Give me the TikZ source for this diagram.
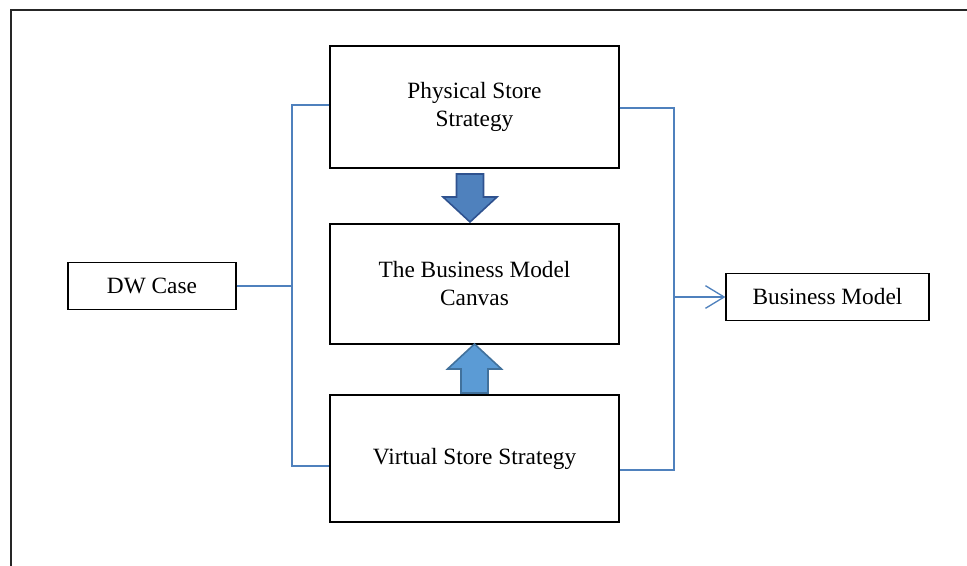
\documentclass[tikz,border=0pt]{standalone}
\usepackage{fontspec}
\setmainfont{Liberation Serif}
\usepackage{tikz}
\usetikzlibrary{arrows.meta}
\usepackage{xcolor}

\definecolor{linkblue}{RGB}{79,129,189}
\definecolor{darkblue}{RGB}{47,82,143}
\definecolor{lightblue}{RGB}{91,155,213}
\definecolor{lightedge}{RGB}{65,113,156}

\begin{document}
\begin{tikzpicture}[x=0.75pt,y=-0.75pt,
	box/.style={draw=black,line width=0.9pt,fill=white,align=center,inner sep=0pt,
		font=\fontsize{17.5}{21}\selectfont},
	bigbox/.style={box,minimum width=216.75pt},
	smallbox/.style={box,minimum height=35.25pt},
	link/.style={draw=linkblue,line width=1pt},
	blockarrow/.style={line width=1.2pt,line join=miter}]
			%\draw[help lines] (0,0) grid[step=50] (967,565);
			
			\useasboundingbox (0,0) rectangle (967,565);
			\clip (0,0) rectangle (967,565);
			
			% outer frame
			\draw[line width=1.8pt,black!85] (11,10) rectangle (990,590);
			
			% boxes
			\node[bigbox,minimum height=91.5pt] (phys) at (474.5,107) {Physical Store\\Strategy};
			\node[bigbox,minimum height=90pt] (canvas) at (474.5,284) {The Business Model\\Canvas};
			\node[bigbox,minimum height=95.25pt] (virt) at (474.5,458.5) {Virtual Store Strategy};
			
			\node[smallbox,minimum width=126pt] (dw) at (152,286) {DW Case};
			\node[smallbox,minimum width=152.25pt] (bm) at (827.5,297) {Business Model};
			
			% bracket points
			\coordinate (lt) at (292,105);
			\coordinate (lb) at (292,466);
			\coordinate (rt) at (674,108);
			\coordinate (rb) at (674,470);
			
			% connectors
			\draw[link] (phys.west |- lt) -- (lt) -- (lb) -- (virt.west |- lb);
			\draw[link] (dw.east) -- (dw.east -| lt);
			
			\draw[link] (phys.east |- rt) -- (rt) -- (rb) -- (virt.east |- rb);
			\draw[link,-{Straight Barb[length=14pt,width=17pt,line width=1pt]}] (bm.west -| rt) -- (bm.west);
			
			% block arrows
			\filldraw[blockarrow,draw=darkblue,fill=linkblue]
				(456.5,174) -- (483.5,174) -- (483.5,197) -- (497,197)
				-- (470,222) -- (443,197) -- (456.5,197) -- cycle;
			\filldraw[blockarrow,draw=lightedge,fill=lightblue]
				(474.5,344) -- (501.5,369) -- (488,369) -- (488,393)
				-- (461,393) -- (461,369) -- (447.5,369) -- cycle;
			
\end{tikzpicture}
\end{document}
